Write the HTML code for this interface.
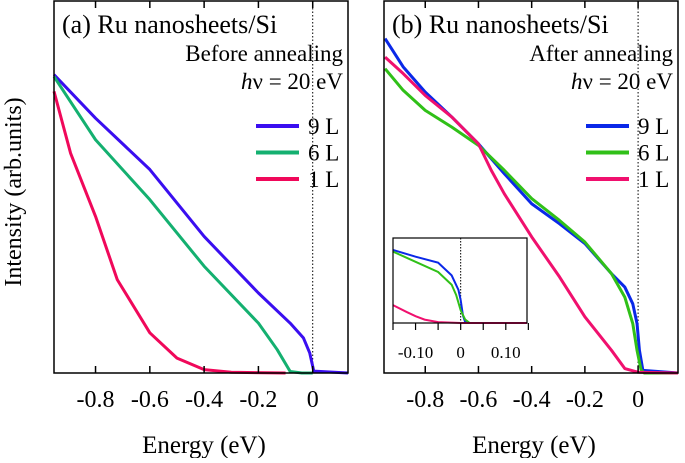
<!DOCTYPE html>
<html><head><meta charset="utf-8"><style>
body{margin:0;background:#fff;}
svg text{font-family:"Liberation Serif",serif;fill:#000;}
</style></head><body>
<svg id="chart" width="685" height="458" xmlns="http://www.w3.org/2000/svg"></svg>
<script>
// Panel (a) data: energy (eV) and intensity (arb., 0 = baseline, 100 = top)
const energyA9 = [-0.953,-0.8,-0.6,-0.4,-0.2,-0.083,-0.034,-0.011,0.004,0.13];
const intensityA9 = [80.2,68.5,54.7,36.7,21.5,13.4,9.4,5.4,0.5,0];
const energyA6 = [-0.953,-0.8,-0.6,-0.4,-0.2,-0.131,-0.083,-0.04,0.0];
const intensityA6 = [79.7,62.7,46.6,28.7,13.4,6.3,0.4,0,0];
const energyA1 = [-0.953,-0.892,-0.8,-0.72,-0.6,-0.5,-0.4,-0.3,-0.1];
const intensityA1 = [75.7,59.1,42.1,25.1,10.8,4.0,0.9,0.2,0];
// Panel (b) data
const energyB9 = [-0.951,-0.883,-0.8,-0.7,-0.6,-0.503,-0.4,-0.295,-0.2,-0.1,-0.05,-0.02,-0.004,0.005,0.018,0.15];
const intensityB9 = [89.9,82.3,75.5,68.8,61.6,53.6,45.5,40.1,34.8,26.7,23.1,18.6,13.3,6.1,0.7,0];
const energyB6 = [-0.951,-0.883,-0.8,-0.7,-0.6,-0.503,-0.4,-0.295,-0.2,-0.1,-0.05,-0.02,-0.004,0.011,0.023,0.15];
const intensityB6 = [81.8,76,70.6,66.1,61.2,54.5,46.9,41,35.2,26.7,20.4,13.3,6.1,0.9,0,0];
const energyB1 = [-0.951,-0.883,-0.8,-0.7,-0.6,-0.552,-0.503,-0.4,-0.295,-0.2,-0.1,-0.05,0,0.15];
const intensityB1 = [84.9,80.5,74.6,68.8,61.6,54.5,48.2,36.6,25.8,15.1,6.1,1.2,0.2,0];
// Inset data (panel b, zoom near E_F)
const energyIn = [-0.15,-0.1,-0.05,-0.02,-0.005,0,0.005,0.01,0.02,0.147];
const intensityIn9 = [86,78,71,56,39,27,9,1,0,0];
const energyIn6 = [-0.15,-0.1,-0.05,-0.02,-0.01,0,0.01,0.02,0.147];
const intensityIn6 = [84,72,60,45,33,15,4,0,0];
const energyIn1 = [-0.15,-0.12,-0.1,-0.08,-0.05,0,0.147];
const intensityIn1 = [21,13,8,4,1,0,0];
const tickLabelsMain = ["-0.8","-0.6","-0.4","-0.2","0"];
const tickValuesMain = [-0.8,-0.6,-0.4,-0.2,0];
const tickValuesInset = [-0.15,-0.1,-0.05,0,0.05,0.1,0.15];
const tickLabelsInset = ["-0.10","0","0.10"];
const tickLabelValuesInset = [-0.1,0,0.1];
const seriesLabels = ["9 L","6 L","1 L"];

const NS="http://www.w3.org/2000/svg";
const svg=document.getElementById('chart');
function mk(tag,attrs,parent){const e=document.createElementNS(NS,tag);for(const k in attrs)e.setAttribute(k,attrs[k]);(parent||svg).appendChild(e);return e;}

function panel(name,x0,E0,E1,series,colors,title,sub){
  const g=mk('g',{});
  
  
  const top=1,bot=373,w=294;
  const xs=e=>x0+(e-E0)/(E1-E0)*w;
  const ys=v=>bot-v/100*(bot-top);
  const ef=mk('line',{x1:xs(0),x2:xs(0),y1:top,y2:bot,stroke:'#000','stroke-width':1,'stroke-dasharray':'1.5,2'},g);
  
  
  series.forEach((s,i)=>{
    const p=mk('polyline',{points:s[0].map((e,j)=>xs(e)+','+ys(s[1][j])).join(' '),fill:'none',stroke:colors[i],'stroke-width':3,'stroke-linejoin':'round'},g);
    
    
  });
  const fr=mk('rect',{x:x0,y:top,width:w,height:bot-top,fill:'none',stroke:'#000','stroke-width':1.5},g);
  
  
  tickValuesMain.forEach((t,i)=>{
    mk('line',{x1:xs(t),x2:xs(t),y1:bot,y2:bot-7,stroke:'#000','stroke-width':1.5},g);
    mk('line',{x1:xs(t),x2:xs(t),y1:top,y2:top+7,stroke:'#000','stroke-width':1.5},g);
    const tl=mk('text',{x:xs(t),y:407,'text-anchor':'middle','font-size':24},g);
    tl.textContent=tickLabelsMain[i];
    
    
  });
  const xt=mk('text',{x:x0+w/2+3,y:453,'text-anchor':'middle','font-size':25},g);
  xt.textContent='Energy (eV)';
  
  
  const t1=mk('text',{x:x0+8,y:33,'font-size':26},g);
  t1.textContent=title;
  
  
  const t2=mk('text',{x:x0+w-5,y:61,'text-anchor':'end','font-size':23},g);
  t2.textContent=sub;
  
  
  const t3=mk('text',{x:x0+w-5,y:89,'text-anchor':'end','font-size':23},g);
  t3.innerHTML='<tspan font-style="italic">h</tspan>ν = 20 eV';
  
  
  const lx=x0+w-92;
  seriesLabels.forEach((l,i)=>{
    const y=126+i*26.5;
    const ll=mk('line',{x1:lx,x2:lx+43,y1:y,y2:y,stroke:colors[i],'stroke-width':4},g);
    
    
    const lt=mk('text',{x:lx+52,y:y+8,'font-size':23},g);
    lt.textContent=l;
    
    
  });
  return xs;
}
panel('panel-a',54,-0.953,0.13,[[energyA9,intensityA9],[energyA6,intensityA6],[energyA1,intensityA1]],['#3a0ef0','#14b070','#f0085a'],'(a) Ru nanosheets/Si','Before annealing');
panel('panel-b',384,-0.955,0.15,[[energyB9,intensityB9],[energyB6,intensityB6],[energyB1,intensityB1]],['#0a28e8','#30c018','#f0106e'],'(b) Ru nanosheets/Si','After annealing');

(function(){
  const g=mk('g',{});
  
  
  const x0=393,x1=527,top=238,bot=323,E0=-0.15,E1=0.147;
  mk('rect',{x:x0,y:top,width:x1-x0,height:bot-top,fill:'#fff',stroke:'none'},g);
  const xs=e=>x0+(e-E0)/(E1-E0)*(x1-x0);
  const ys=v=>bot-v/100*(bot-top);
  mk('line',{x1:xs(0),x2:xs(0),y1:top,y2:bot,stroke:'#000','stroke-width':1,'stroke-dasharray':'1.5,1.5'},g);
  [[energyIn,intensityIn9,'#0a28e8'],[energyIn6,intensityIn6,'#30c018'],[energyIn1,intensityIn1,'#f0106e']].forEach((s,i)=>{
    const p=mk('polyline',{points:s[0].map((e,j)=>xs(e)+','+ys(s[1][j])).join(' '),fill:'none',stroke:s[2],'stroke-width':2},g);
    
    
  });
  mk('rect',{x:x0,y:top,width:x1-x0,height:bot-top,fill:'none',stroke:'#000','stroke-width':1.2},g);
  tickValuesInset.forEach(t=>{mk('line',{x1:xs(t),x2:xs(t),y1:bot,y2:bot+7,stroke:'#000','stroke-width':1.2},g);});
  tickLabelValuesInset.forEach((t,i)=>{
    const tl=mk('text',{x:xs(t),y:358,'text-anchor':'middle','font-size':17},g);
    tl.textContent=tickLabelsInset[i];
    
    
  });
})();

const yt=mk('text',{x:0,y:0,'text-anchor':'middle','font-size':24,transform:'translate(21,192) rotate(-90)'});
yt.textContent='Intensity (arb.units)';


</script>
</body></html>
